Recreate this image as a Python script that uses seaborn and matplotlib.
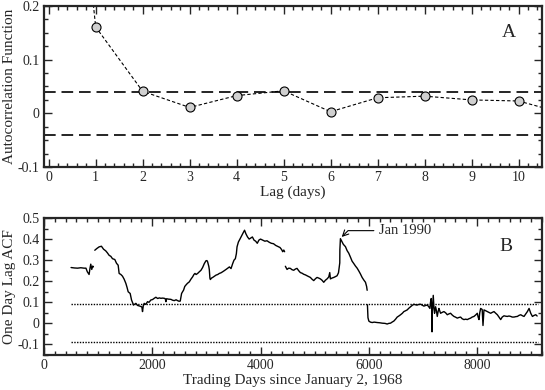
import numpy as np
import pandas as pd
import matplotlib
matplotlib.use("Agg")
import matplotlib.pyplot as plt
import seaborn as sns
from matplotlib.ticker import MultipleLocator, FuncFormatter

# ---- Panel A: autocorrelation by lag ----
lags = [0, 1, 2, 3, 4, 5, 6, 7, 8, 9, 10, 11]
acf_values = [1.0, 0.161, 0.041, 0.011, 0.033, 0.042, 0.003, 0.029, 0.032, 0.025, 0.023, -0.001]
acf_band = 0.04

# ---- Panel B: rolling one-day lag ACF ----
days = [500, 560, 620, 680, 740, 775, 800, 833, 850, 864, 882, 900, 913,
        938, 975, 1018, 1061, 1100, 1141, 1170, 1203, 1235, 1265, 1308, 1340, 1370, 1388,
        1420, 1450, 1480, 1512, 1535, 1555, 1592, 1617, 1654, 1697, 1730, 1758, 1790, 1808,
        1820, 1835, 1851, 1880, 1913, 1940, 1974, 2005, 2036, 2067, 2100, 2130, 2160, 2190,
        2221, 2240, 2252, 2265, 2300, 2345, 2375, 2406, 2440, 2468, 2495, 2517, 2542, 2560,
        2579, 2600, 2622, 2650, 2684, 2715, 2746, 2770, 2789, 2810, 2838, 2870, 2900, 2930,
        2962, 2992, 3010, 3023, 3045, 3054, 3065, 3073, 3095, 3116, 3150, 3178, 3210, 3239,
        3270, 3301, 3330, 3363, 3395, 3425, 3455, 3486, 3510, 3535, 3554, 3566, 3591, 3620,
        3650, 3680, 3705, 3730, 3760, 3790, 3820, 3850, 3880, 3910, 3940, 3970, 4000, 4040,
        4080, 4120, 4160, 4200, 4240, 4280, 4320, 4360, 4390, 4410, 4430, 4445,
        4459, 4490, 4520, 4551, 4580, 4613, 4645, 4674, 4705, 4736, 4768, 4798, 4830, 4859,
        4890, 4921, 4950, 4983, 5015, 5044, 5075, 5106, 5135, 5168, 5200, 5229, 5260, 5279,
        5291, 5320, 5353, 5385, 5414, 5440, 5451, 5464, 5466, 5476, 5500, 5530, 5569, 5600,
        5630, 5660, 5692, 5720, 5754, 5785, 5815, 5845, 5877, 5910, 5939, 5960, 5970,
        5975, 5985, 6001, 6030, 6063, 6100, 6155, 6200, 6248, 6300, 6340, 6370, 6402, 6430,
        6463, 6495, 6525, 6555, 6587, 6620, 6648, 6680, 6710, 6740, 6772, 6800, 6833, 6865,
        6895, 6925, 6956, 6990, 7018, 7050, 7080, 7105, 7129, 7140, 7154, 7165, 7168, 7172,
        7191, 7205, 7215, 7234, 7250, 7265, 7280, 7296, 7310, 7326, 7355, 7388, 7420, 7450,
        7480, 7511, 7540, 7573, 7600, 7635, 7665, 7696, 7725, 7758, 7790, 7820, 7850, 7881,
        7910, 7943, 7975, 8005, 8020, 8036, 8050, 8067, 8095, 8110, 8128, 8160, 8190, 8220,
        8252, 8280, 8313, 8345, 8375, 8405, 8437, 8465, 8498, 8530, 8560, 8590, 8622, 8650,
        8683, 8715, 8745, 8775, 8807, 8840, 8868, 8900, 8930, 8961, 8992, 9023, 9055, 9085, 9110]
lag1_acf = [0.265, 0.263, 0.262, 0.264, 0.262, 0.262, 0.245, 0.232, 0.262, 0.281, 0.256, 0.272, 0.268,
            0.347, 0.355, 0.363, 0.366, 0.352, 0.344, 0.335, 0.323, 0.318, 0.307, 0.303, 0.285, 0.276, 0.237,
            0.232, 0.224, 0.21, 0.19, 0.17, 0.15, 0.142, 0.111, 0.087, 0.095, 0.085, 0.083, 0.08, 0.078,
            0.056, 0.085, 0.095, 0.09, 0.103, 0.1, 0.111, 0.113, 0.119, 0.124, 0.118, 0.121, 0.119, 0.12,
            0.119, 0.117, 0.103, 0.117, 0.115, 0.114, 0.11, 0.108, 0.112, 0.108, 0.105, 0.106, 0.142, 0.15,
            0.158, 0.175, 0.182, 0.19, 0.197, 0.21, 0.221, 0.232, 0.237, 0.232, 0.237, 0.245, 0.252, 0.265,
            0.284, 0.297, 0.298, 0.292, 0.27, 0.255, 0.215, 0.208, 0.215, 0.218, 0.224, 0.229, 0.232, 0.237,
            0.24, 0.245, 0.25, 0.256, 0.262, 0.268, 0.26, 0.284, 0.3, 0.307, 0.331, 0.363, 0.386, 0.40,
            0.415, 0.43, 0.442, 0.425, 0.41, 0.40, 0.405, 0.41, 0.395, 0.39, 0.38, 0.395, 0.40, 0.395,
            0.39, 0.392, 0.385, 0.38, 0.378, 0.37, 0.365, 0.36, 0.35, 0.34, 0.348, 0.34,
            0.271, 0.256, 0.262, 0.261, 0.255, 0.252, 0.258, 0.261, 0.25, 0.241, 0.238, 0.233, 0.23, 0.226,
            0.222, 0.218, 0.21, 0.203, 0.212, 0.218, 0.215, 0.211, 0.205, 0.195, 0.205, 0.211, 0.22, 0.241,
            0.211, 0.215, 0.218, 0.222, 0.226, 0.24, 0.261, 0.287, 0.35, 0.402, 0.39, 0.375, 0.364, 0.345,
            0.333, 0.315, 0.295, 0.285, 0.272, 0.262, 0.249, 0.235, 0.218, 0.205, 0.195, 0.175, 0.157,
            0.088, 0.027, 0.011, 0.006, 0.004, 0.006, 0.004, 0.003, 0.001, 0.0, -0.003, 0.0, 0.001, 0.006,
            0.011, 0.02, 0.03, 0.035, 0.041, 0.048, 0.056, 0.06, 0.064, 0.072, 0.079, 0.085, 0.091, 0.088,
            0.087, 0.09, 0.091, 0.086, 0.082, 0.085, 0.087, 0.08, 0.071, 0.1, 0.118, 0.048, -0.04, 0.048,
            0.133, 0.07, 0.048, 0.079, 0.06, 0.033, 0.055, 0.071, 0.06, 0.048, 0.052, 0.056, 0.05, 0.041,
            0.045, 0.048, 0.04, 0.033, 0.03, 0.025, 0.028, 0.03, 0.022, 0.018, 0.02, 0.018, 0.022, 0.025,
            0.03, 0.033, 0.04, 0.048, 0.03, 0.018, 0.05, 0.071, 0.066, -0.01, 0.064, 0.06, 0.056, 0.052,
            0.048, 0.052, 0.056, 0.048, 0.041, 0.03, 0.018, 0.03, 0.036, 0.034, 0.033, 0.035, 0.033, 0.03,
            0.03, 0.032, 0.033, 0.038, 0.041, 0.036, 0.033, 0.045, 0.056, 0.071, 0.048, 0.033, 0.038, 0.041, 0.035]
segment_starts = [500, 938, 4459, 5975]
lag1_band = 0.09

sns.set_style("ticks")
plt.rcParams['font.family'] = ['Liberation Serif', 'DejaVu Serif']
plt.rcParams['axes.unicode_minus'] = False

df_a = pd.DataFrame({'lag': lags, 'acf': acf_values})
df_b = pd.DataFrame({'day': days, 'acf': lag1_acf})
df_b['seg'] = np.searchsorted(segment_starts, df_b['day'], side='right')

fig = plt.figure(figsize=(5.45, 3.9), dpi=100)
ax1 = fig.add_axes([44 / 545, 1 - 167 / 390, 498 / 545, 161 / 390])
ax2 = fig.add_axes([44 / 545, 1 - 355 / 390, 498 / 545, 137 / 390])

fmt = FuncFormatter(lambda v, p: f'{round(v, 3):g}' if abs(v) > 1e-9 else '0')

# ---- Panel A ----
for b in (acf_band, -acf_band):
    ax1.axhline(b, color='black', lw=1.2, dashes=(7, 3.5))
sns.lineplot(data=df_a, x='lag', y='acf', ax=ax1, color='black', lw=0.8,
             estimator=None, sort=False)
ax1.lines[-1].set_dashes((3, 2))
ax1.plot(df_a['lag'], df_a['acf'], ls='none', marker='o', ms=6.5,
         mfc='#d0d0d0', mec='black', mew=0.8)
ax1.set_xlim(-0.1, 10.5)
ax1.set_ylim(-0.1, 0.2)
ax1.xaxis.set_major_locator(MultipleLocator(1))
ax1.xaxis.set_minor_locator(MultipleLocator(0.2))
ax1.yaxis.set_major_locator(MultipleLocator(0.1))
ax1.yaxis.set_minor_locator(MultipleLocator(0.025))
ax1.yaxis.set_major_formatter(fmt)
ax1.set_xlabel('Lag (days)', fontsize=11, labelpad=1)
ax1.set_ylabel('Autocorrelation Function', fontsize=11)
ax1.text(9.8, 0.15, 'A', fontsize=14, ha='center', va='center')

# ---- Panel B ----
for b in (lag1_band, -lag1_band):
    ax2.plot([500, 9120], [b, b], color='black', lw=1.0, ls=(0, (1, 1)))
sns.lineplot(data=df_b, x='day', y='acf', units='seg', estimator=None, ax=ax2,
             color='black', lw=1.0, sort=False)
ax2.set_xlim(0, 9200)
ax2.set_ylim(-0.15, 0.5)
ax2.xaxis.set_major_locator(MultipleLocator(2000))
ax2.xaxis.set_minor_locator(MultipleLocator(200))
ax2.yaxis.set_major_locator(MultipleLocator(0.1))
ax2.yaxis.set_minor_locator(MultipleLocator(0.05))
ax2.yaxis.set_major_formatter(fmt)
ax2.set_xlabel('Trading Days since January 2, 1968', fontsize=11, labelpad=1)
ax2.set_ylabel('One Day Lag ACF', fontsize=11)
ax2.text(8530, 0.365, 'B', fontsize=14, ha='center', va='center')
ax2.annotate('Jan 1990', xy=(5500, 0.41), xytext=(6180, 0.44), fontsize=10.5,
             va='center', ha='left',
             arrowprops=dict(arrowstyle='->', color='black', lw=0.8, shrinkA=1, shrinkB=0,
                             connectionstyle='angle,angleA=0,angleB=45,rad=0'))

for ax in (ax1, ax2):
    for s in ax.spines.values():
        s.set_linewidth(1.6)
        s.set_visible(True)
    ax.tick_params(which='both', direction='in', top=True, right=True, labelsize=10, width=1.0)
    ax.tick_params(which='major', length=6, pad=3)
    ax.tick_params(which='minor', length=3)
    ax.yaxis.set_label_coords(-0.056, 0.5)

fig.savefig('out.png', dpi=100)
